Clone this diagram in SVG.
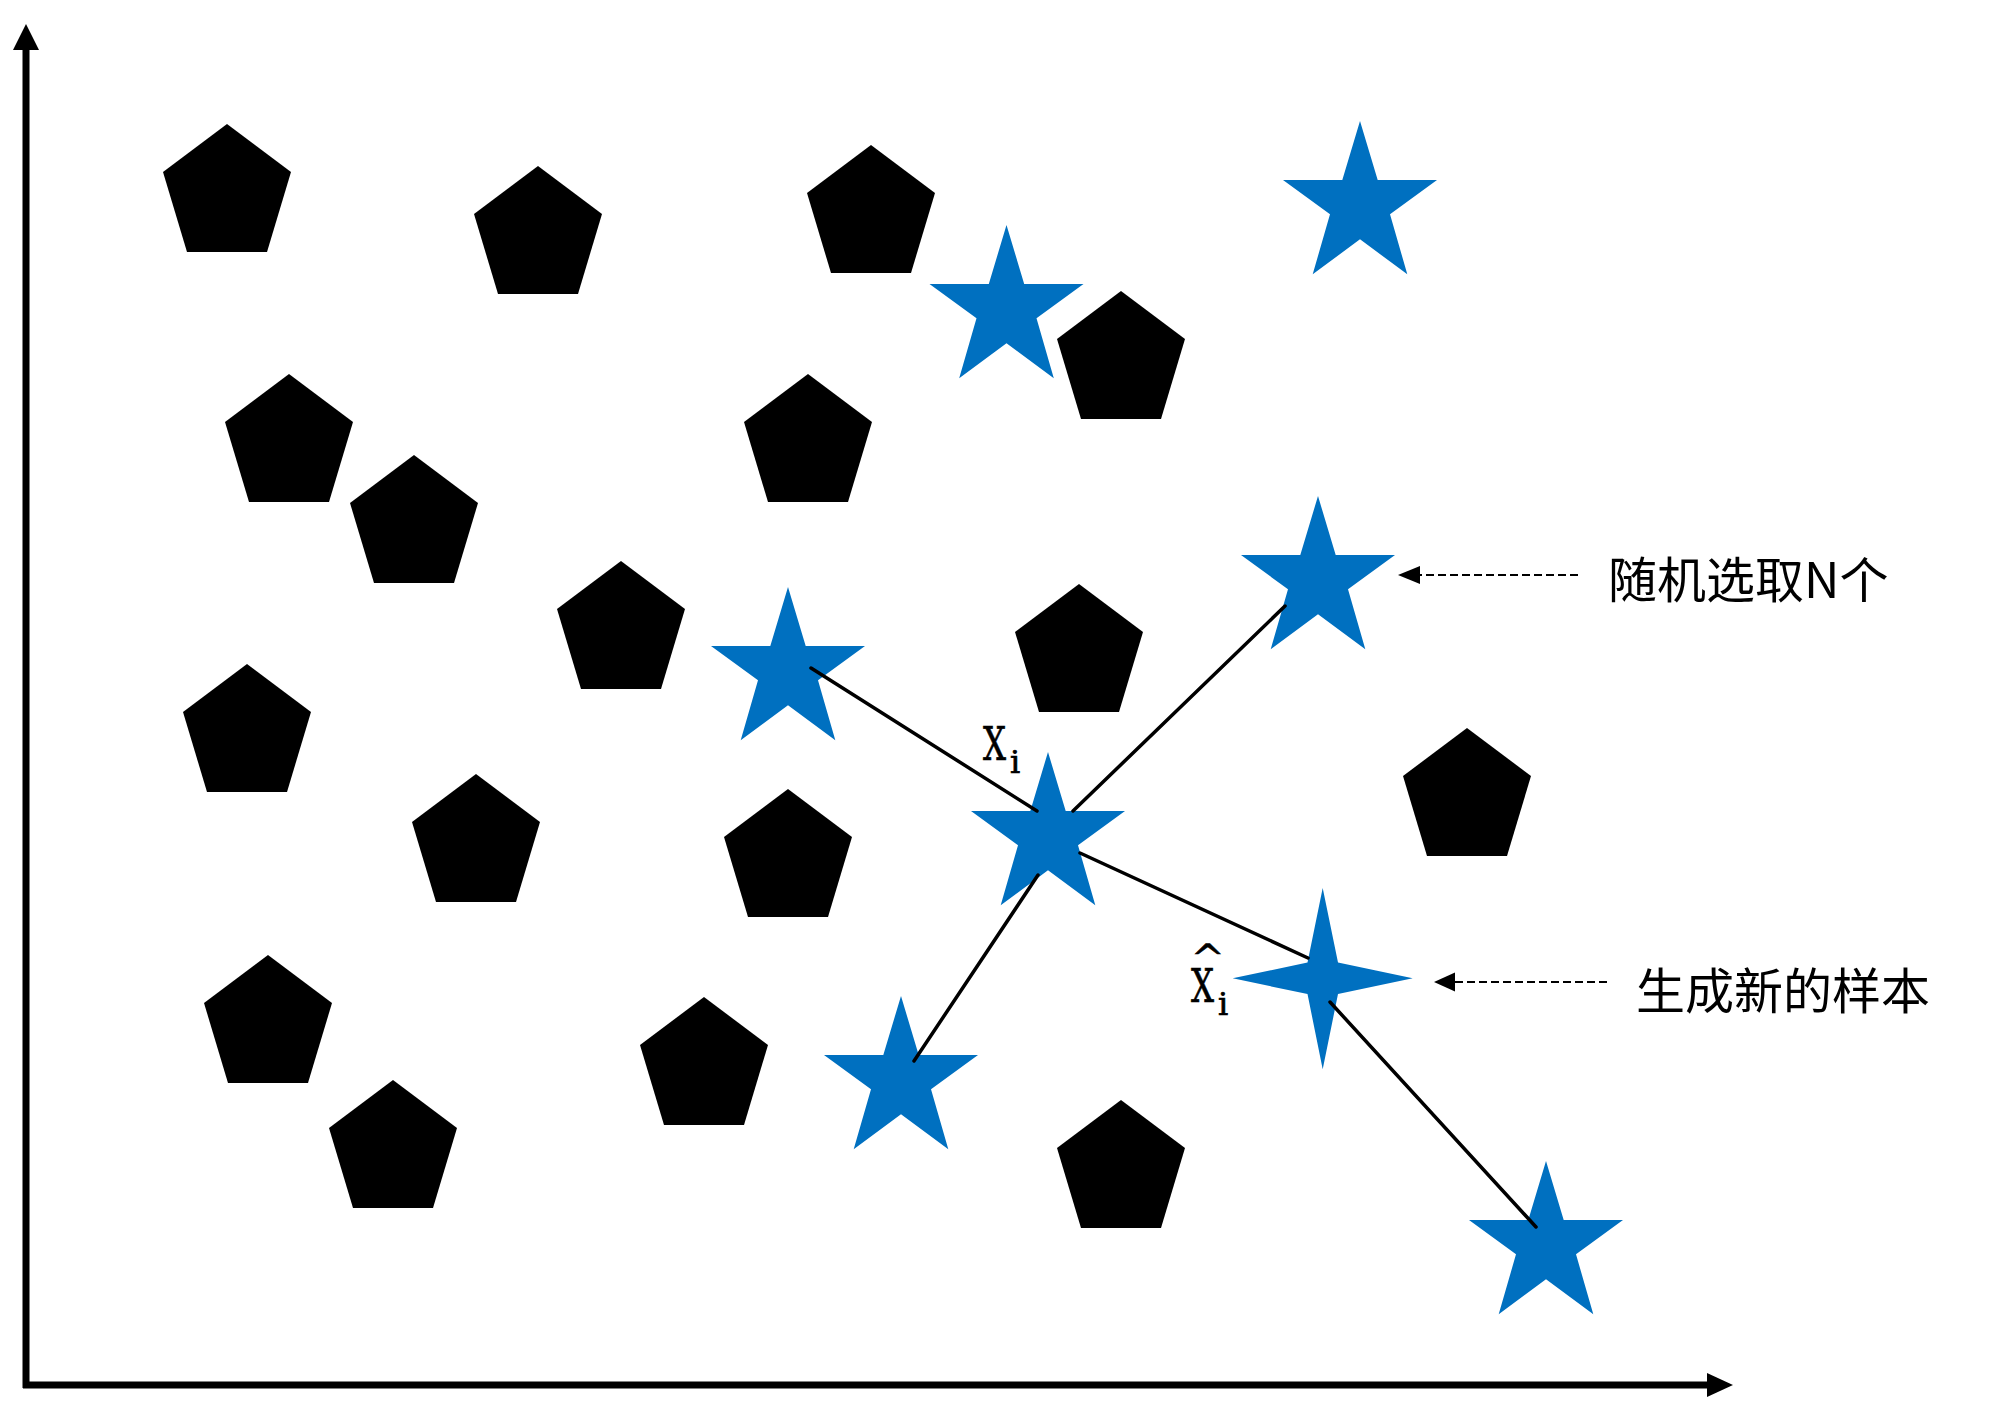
<svg xmlns="http://www.w3.org/2000/svg" width="1999" height="1410" viewBox="0 0 1999 1410">
<style>
.pent{fill:#000}
.star{fill:#0070C0}
.link{stroke:#000;stroke-width:3.5;fill:none;stroke-linecap:round}
.axis{stroke:#000;stroke-width:7;fill:none}
.dash{stroke:#000;stroke-width:2.2;stroke-dasharray:8 4;fill:none}
.head{fill:#000}
.lbl{font-family:"DejaVu Serif","Liberation Serif",serif;fill:#000;stroke:#000;stroke-width:0.7}
.cjk{font-family:"Noto Sans CJK SC",sans-serif;font-size:49px;fill:#000}
</style>
<defs>
<polygon id="pent" points="0,0 64,48 40,128 -40,128 -64,48"/>
<path id="star" d="M0,0 L17.7,59 L77,59 L30,93.3 L47.3,153.3 L0,118.3 L-47.3,153.3 L-30,93.3 L-77,59 L-17.7,59 Z"/>
</defs>
<g id="axes">
<line class="axis" x1="26" y1="1388" x2="26" y2="48"/>
<polygon class="head" points="26,24 13,50 39,50"/>
<line class="axis" x1="23" y1="1385" x2="1709" y2="1385"/>
<polygon class="head" points="1733,1385 1707,1373 1707,1397"/>
</g>
<g id="pentagons">
<g id="p1"><use href="#pent" class="pent" x="227" y="124"/></g>
<g id="p2"><use href="#pent" class="pent" x="538" y="166"/></g>
<g id="p3"><use href="#pent" class="pent" x="871" y="145"/></g>
<g id="p4"><use href="#pent" class="pent" x="1121" y="291"/></g>
<g id="p5"><use href="#pent" class="pent" x="289" y="374"/></g>
<g id="p6"><use href="#pent" class="pent" x="808" y="374"/></g>
<g id="p7"><use href="#pent" class="pent" x="414" y="455"/></g>
<g id="p8"><use href="#pent" class="pent" x="621" y="561"/></g>
<g id="p9"><use href="#pent" class="pent" x="1079" y="584"/></g>
<g id="p10"><use href="#pent" class="pent" x="247" y="664"/></g>
<g id="p11"><use href="#pent" class="pent" x="476" y="774"/></g>
<g id="p12"><use href="#pent" class="pent" x="788" y="789"/></g>
<g id="p13"><use href="#pent" class="pent" x="1467" y="728"/></g>
<g id="p14"><use href="#pent" class="pent" x="268" y="955"/></g>
<g id="p15"><use href="#pent" class="pent" x="704" y="997"/></g>
<g id="p16"><use href="#pent" class="pent" x="393" y="1080"/></g>
<g id="p17"><use href="#pent" class="pent" x="1121" y="1100"/></g>
</g>
<g id="stars">
<g id="sA"><use href="#star" class="star" x="1006.5" y="225"/></g>
<g id="sB"><use href="#star" class="star" x="1360" y="121"/></g>
<g id="sC"><use href="#star" class="star" x="1318" y="496"/></g>
<g id="sD"><use href="#star" class="star" x="788" y="587"/></g>
<g id="sE"><use href="#star" class="star" x="1048" y="752"/></g>
<g id="sF"><use href="#star" class="star" x="901" y="996"/></g>
<g id="sG"><use href="#star" class="star" x="1546" y="1161"/></g>
<g id="sH"><path class="star" d="M1322.7,888 L1338,962.5 L1412.7,978.3 L1338,994 L1322.7,1069.3 L1307.5,994 L1232.7,978.3 L1307.5,962.5 Z"/></g>
</g>
<g id="connectors">
<line class="link" x1="811" y1="668" x2="1037" y2="811"/>
<line class="link" x1="1073" y1="811" x2="1285" y2="606"/>
<line class="link" x1="1038" y1="875" x2="914" y2="1061"/>
<line class="link" x1="1080" y1="853" x2="1308" y2="958"/>
<line class="link" x1="1330" y1="1002" x2="1536" y2="1227"/>
<line class="dash" x1="1578" y1="575" x2="1418" y2="575"/>
<polygon class="head" points="1398,575 1420,566 1420,584"/>
<line class="dash" x1="1607" y1="982" x2="1453" y2="982"/>
<polygon class="head" points="1434,982 1455,972.5 1455,991.5"/>
</g>
<g id="labels">
<text class="lbl" font-size="46"><tspan x="983" y="760" textLength="23" lengthAdjust="spacingAndGlyphs">X</tspan><tspan x="1010" y="773" font-size="32">i</tspan></text>
<text class="lbl" font-size="46"><tspan x="1191" y="972" font-size="40">^</tspan><tspan x="1191" y="1001.7" textLength="23" lengthAdjust="spacingAndGlyphs">X</tspan><tspan x="1218" y="1015" font-size="32">i</tspan></text>
<text class="cjk" x="1608" y="598">随机选取N个</text>
<text class="cjk" x="1636" y="1009">生成新的样本</text>
</g>
</svg>
